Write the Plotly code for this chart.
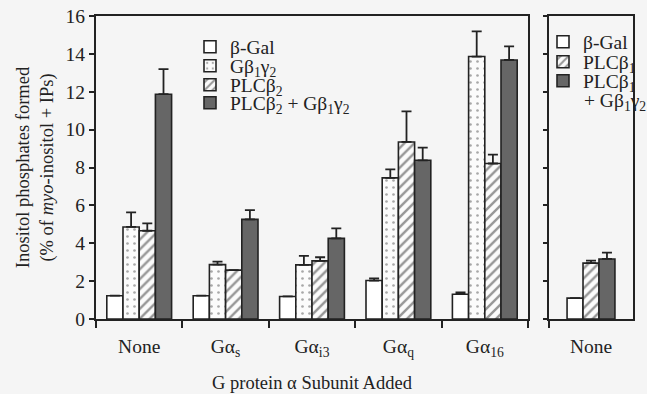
import plotly.graph_objects as go

# ---- data ----
groups = ["None", "Gα<sub>s</sub>", "Gα<sub>i3</sub>", "Gα<sub>q</sub>", "Gα<sub>16</sub>"]
bgal = [1.23, 1.23, 1.19, 2.03, 1.31]
bgal_err = [None, None, None, 0.11, 0.09]
gbg = [4.86, 2.87, 2.86, 7.45, 13.86]
gbg_err = [0.77, 0.16, 0.47, 0.45, 1.33]
plcb2 = [4.66, 2.58, 3.07, 9.35, 8.21]
plcb2_err = [0.39, None, 0.19, 1.61, 0.47]
plcb2_gbg = [11.87, 5.26, 4.26, 8.38, 13.68]
plcb2_gbg_err = [1.33, 0.49, 0.53, 0.67, 0.72]

right_groups = ["None"]
r_bgal = [1.10]
r_bgal_err = [None]
r_plcb1 = [2.95]
r_plcb1_err = [0.13]
r_plcb1_gbg = [3.17]
r_plcb1_gbg_err = [0.33]

y_ticks = [0, 2, 4, 6, 8, 10, 12, 14, 16]

# ---- styles ----
INK = "#222222"
BG = "#f5f5f5"
FONT = "Liberation Serif"

STYLE = {
    "white": dict(color="white", line=dict(color=INK, width=1.6)),
    "dots": dict(color="white", line=dict(color=INK, width=1.6),
                 pattern=dict(shape=".", size=7, solidity=0.12, fgcolor="#555555", bgcolor="#fbfbfb")),
    "hatch": dict(color="white", line=dict(color=INK, width=1.6),
                  pattern=dict(shape="/", size=7, solidity=0.35, fgcolor="#333333", bgcolor="#fbfbfb")),
    "dark": dict(color="#666666", line=dict(color=INK, width=1.6)),
}


def err(a):
    return dict(type="data", array=a, arrayminus=[0] * len(a), symmetric=False,
                color=INK, thickness=1.8, width=5)


W, H = 647, 394
ml, mr, mt, mb = 96, 14, 16, 75
pw = W - ml - mr
ph = H - mt - mb


def px_x(px):
    return (px - ml) / pw


def px_y(py):
    return 1 - (py - mt) / ph


fig = go.Figure()

main_series = [
    ("β-Gal", bgal, bgal_err, "white", 47),
    ("Gβ<sub>1</sub>γ<sub>2</sub>", gbg, gbg_err, "dots", 66),
    ("PLCβ<sub>2</sub>", plcb2, plcb2_err, "hatch", 85),
    ("PLCβ<sub>2</sub> + Gβ<sub>1</sub>γ<sub>2</sub>", plcb2_gbg, plcb2_gbg_err, "dark", 103),
]
right_series = [
    ("β-Gal", r_bgal, r_bgal_err, "white", 42),
    ("PLCβ<sub>1</sub>", r_plcb1, r_plcb1_err, "hatch", 62),
    ("PLCβ<sub>1</sub>", r_plcb1_gbg, r_plcb1_gbg_err, "dark", 81),
]
right_last_line = "+ Gβ<sub>1</sub>γ<sub>2</sub>"

RIGHT_BAR_W = 0.19  # fraction of the right panel's single category

legend_layout = {}
n = 0
for name, vals, e, st, ly in main_series:
    n += 1
    key = "legend" if n == 1 else f"legend{n}"
    fig.add_trace(go.Bar(x=groups, y=vals, name=name, error_y=err(e),
                         marker=STYLE[st], xaxis="x", yaxis="y", legend=key))
    legend_layout[key] = dict(x=px_x(190), y=px_y(ly), xanchor="left", yanchor="middle",
                              bgcolor="rgba(0,0,0,0)", itemwidth=30,
                              font=dict(family=FONT, size=19.5, color=INK))
for i, (name, vals, e, st, ly) in enumerate(right_series):
    n += 1
    key = f"legend{n}"
    fig.add_trace(go.Bar(x=right_groups, y=vals, name=name, error_y=err(e),
                         marker=STYLE[st], xaxis="x2", yaxis="y2", legend=key,
                         width=RIGHT_BAR_W, offset=(i - 1.5) * RIGHT_BAR_W))
    legend_layout[key] = dict(x=px_x(543), y=px_y(ly), xanchor="left", yanchor="middle",
                              bgcolor="rgba(0,0,0,0)", itemwidth=30,
                              font=dict(family=FONT, size=19.5, color=INK))

fig.add_annotation(text=right_last_line, xref="paper", yref="paper",
                   x=px_x(582), y=px_y(102), xanchor="left", yanchor="middle",
                   showarrow=False, font=dict(family=FONT, size=19.5, color=INK))

axis_common = dict(showline=True, linecolor=INK, linewidth=2, mirror=True,
                   showgrid=False, zeroline=False, automargin=False,
                   tickfont=dict(family=FONT, size=19.5, color=INK))

fig.update_layout(
    width=W, height=H,
    margin=dict(l=ml, r=mr, t=mt, b=mb, autoexpand=False),
    paper_bgcolor=BG, plot_bgcolor=BG,
    font=dict(family=FONT, size=18.5, color=INK),
    barmode="group",
    bargap=0.25,
    bargroupgap=0,
    showlegend=True,
    xaxis=dict(domain=[0, px_x(528)], anchor="y", type="category",
               ticks="outside", ticklen=7, tickwidth=2, tickcolor=INK,
               tickson="boundaries", ticklabelstandoff=9,
               title=dict(text="G protein α Subunit Added",
                          font=dict(family=FONT, size=18.5, color=INK), standoff=17),
               **axis_common),
    yaxis=dict(domain=[0, 1], anchor="x", range=[0, 16], tickvals=y_ticks,
               ticks="outside", ticklen=5, tickwidth=2, tickcolor=INK,
               title=dict(text="Inositol phosphates formed<br>(% of <i>myo</i>-inositol + IPs)",
                          font=dict(family=FONT, size=18.5, color=INK), standoff=7),
               **axis_common),
    xaxis2=dict(domain=[px_x(549), 1], anchor="y2", type="category",
                ticks="outside", ticklen=7, tickwidth=2, tickcolor=INK,
                tickson="boundaries", ticklabelstandoff=9,
                **axis_common),
    yaxis2=dict(domain=[0, 1], anchor="x2", range=[0, 16], tickvals=y_ticks,
                showticklabels=False,
                ticks="outside", ticklen=4, tickwidth=2, tickcolor=INK,
                **axis_common),
    **legend_layout,
)

fig.write_html("out.html", config={"displayModeBar": False},
               post_script="document.body.style.margin='0px';document.body.style.padding='0px';"
                           "document.body.style.background='" + BG + "';")
